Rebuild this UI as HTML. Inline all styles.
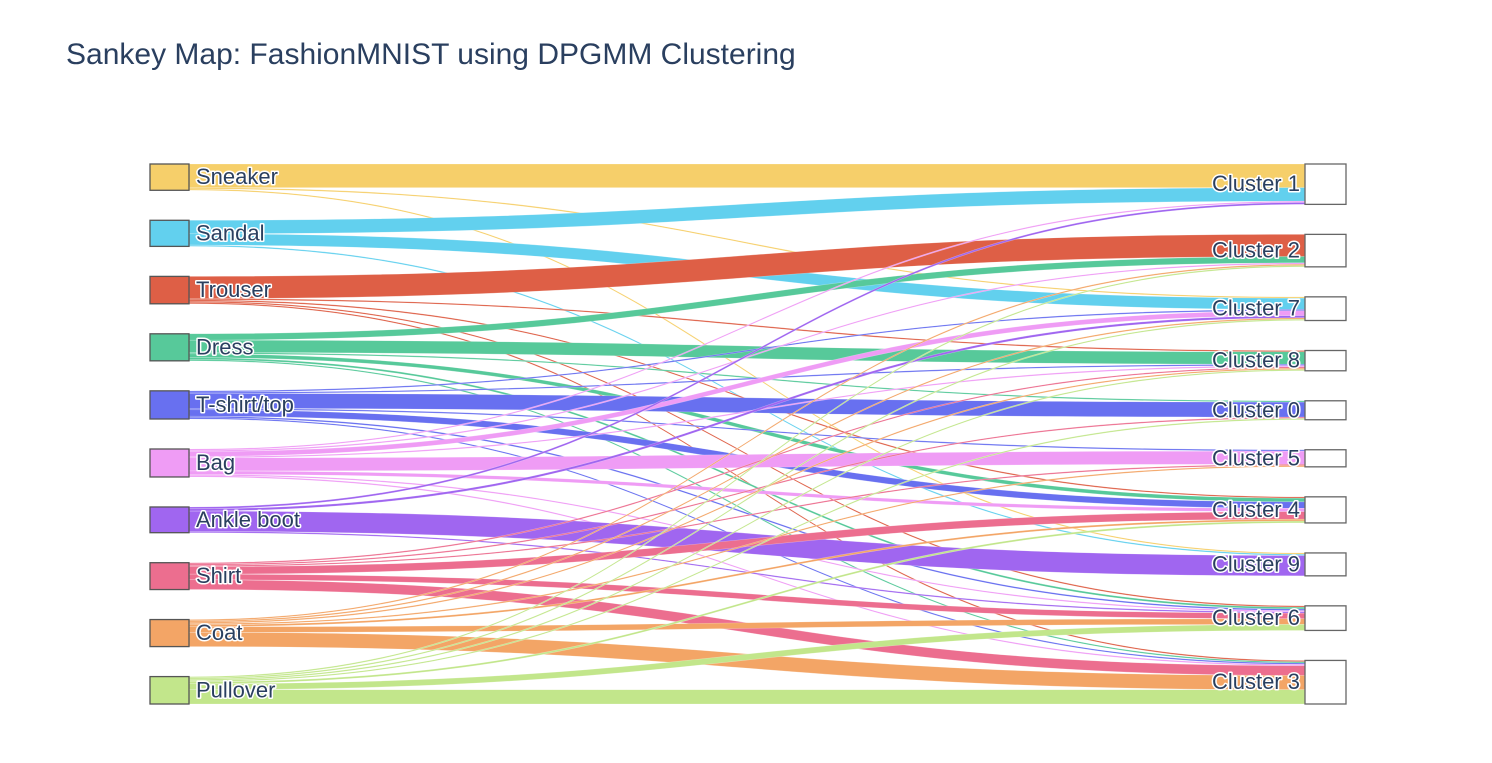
<!DOCTYPE html>
<html><head><meta charset="utf-8"><style>
body{margin:0;background:#fff;}
svg text{font-family:"Liberation Sans",Arial,sans-serif;}
.lbl{font-size:22px;fill:#2a3f5f;paint-order:stroke;stroke:#fff;stroke-width:3px;stroke-linejoin:round;}
</style></head><body>
<svg id="chart" width="1492" height="758">
<text x="66" y="64" font-size="30" fill="#2a3f5f">Sankey Map: FashionMNIST using DPGMM Clustering</text>
<g id="links"></g><g id="nodes"></g>
</svg>
<script>
const sourceNames=["Sneaker","Sandal","Trouser","Dress","T-shirt/top","Bag","Ankle boot","Shirt","Coat","Pullover"];
const sourceColors=["#F6CF6A","#62D0EE","#DE5F46","#57C99A","#6870F0","#EF9CF5","#A066F0","#EC6E8F","#F3A566","#C2E68B"];
const targetNames=["Cluster 1","Cluster 2","Cluster 7","Cluster 8","Cluster 0","Cluster 5","Cluster 4","Cluster 9","Cluster 6","Cluster 3"];
// links: source index, target index, value
const linkSource=[0,0,0, 1,1,1, 2,2,2,2,2, 3,3,3,3,3,3, 4,4,4,4,4,4,4, 5,5,5,5,5,5,5,5, 6,6,6,6, 7,7,7,7,7,7, 8,8,8,8,8,8,8, 9,9,9,9,9,9,9];
const linkTarget=[0,2,7, 0,2,7, 1,3,6,8,9, 1,3,4,6,8,9, 2,3,4,5,6,8,9, 0,1,2,3,5,6,8,9, 0,2,7,8, 3,4,5,6,8,9, 1,2,3,5,6,8,9, 1,2,3,4,6,8,9];
const linkValue=[6300,350,350, 3600,3000,350, 5900,350,350,350,350, 1700,3300,350,1000,500,350, 350,350,4000,350,1700,400,350, 350,350,1300,350,3500,900,350,350, 500,600,5400,350, 350,350,350,2000,1500,2600, 350,350,350,350,500,1500,3800, 350,350,350,350,500,1600,3800];
const NS="http://www.w3.org/2000/svg";
const x0=150,nw=39,x1=1305,topY=164,botY=704,pad=30;
function sumsOf(n,idxArr){const sums=new Array(n).fill(0);linkValue.forEach((v,i)=>sums[idxArr[i]]+=v);return sums;}
const sSum=sumsOf(sourceNames.length,linkSource),tSum=sumsOf(targetNames.length,linkTarget);
const total=sSum.reduce((a,b)=>a+b,0);
const sc=(botY-topY-pad*(sourceNames.length-1))/total;
function pos(sums){let y=topY;const padding=(botY-topY-total*sc)/(sums.length-1);return sums.map(s=>{const p=y;y+=s*sc+padding;return p;});}
const sY=pos(sSum),tY=pos(tSum);
const lg=document.getElementById('links'),ng=document.getElementById('nodes');
const idx=linkValue.map((_,i)=>i);
const sOff=sY.slice(),tOff=tY.slice();
const sStart=[],tStart=[];
idx.slice().sort((a,b)=>linkSource[a]-linkSource[b]||linkTarget[a]-linkTarget[b]).forEach(i=>{sStart[i]=sOff[linkSource[i]];sOff[linkSource[i]]+=linkValue[i]*sc;});
idx.slice().sort((a,b)=>linkTarget[a]-linkTarget[b]||linkSource[a]-linkSource[b]).forEach(i=>{tStart[i]=tOff[linkTarget[i]];tOff[linkTarget[i]]+=linkValue[i]*sc;});
const ax=x0+nw,bx=x1,mx=(ax+bx)/2;
idx.forEach(i=>{
  const h=linkValue[i]*sc,a=sStart[i],b=tStart[i];
  const p=document.createElementNS(NS,'path');
  p.setAttribute('d',`M${ax},${a}C${mx},${a} ${mx},${b} ${bx},${b}L${bx},${b+h}C${mx},${b+h} ${mx},${a+h} ${ax},${a+h}Z`);
  p.setAttribute('fill',sourceColors[linkSource[i]]);
  p.setAttribute('stroke','#fff');p.setAttribute('stroke-width','0.4');p.setAttribute('stroke-opacity','0.5');
  
  
  lg.appendChild(p);
});
sourceNames.forEach((n,i)=>{
  const r=document.createElementNS(NS,'rect');
  r.setAttribute('x',x0);r.setAttribute('y',sY[i]);r.setAttribute('width',nw);r.setAttribute('height',sSum[i]*sc);
  r.setAttribute('fill',sourceColors[i]);r.setAttribute('stroke','#555');r.setAttribute('stroke-width','1.3');
  
  
  ng.appendChild(r);
  const t=document.createElementNS(NS,'text');
  t.setAttribute('x',x0+nw+7);t.setAttribute('y',sY[i]+sSum[i]*sc/2+7);t.setAttribute('class','lbl');t.textContent=n;
  
  
  ng.appendChild(t);
});
targetNames.forEach((n,i)=>{
  const r=document.createElementNS(NS,'rect');
  r.setAttribute('x',x1);r.setAttribute('y',tY[i]);r.setAttribute('width',41);r.setAttribute('height',tSum[i]*sc);
  r.setAttribute('fill','#fff');r.setAttribute('stroke','#666');r.setAttribute('stroke-width','1.3');
  
  
  ng.appendChild(r);
  const t=document.createElementNS(NS,'text');
  t.setAttribute('x',x1-5);t.setAttribute('y',tY[i]+tSum[i]*sc/2+7);t.setAttribute('class','lbl');t.setAttribute('text-anchor','end');t.textContent=n;
  
  
  ng.appendChild(t);
});
</script>
</body></html>
